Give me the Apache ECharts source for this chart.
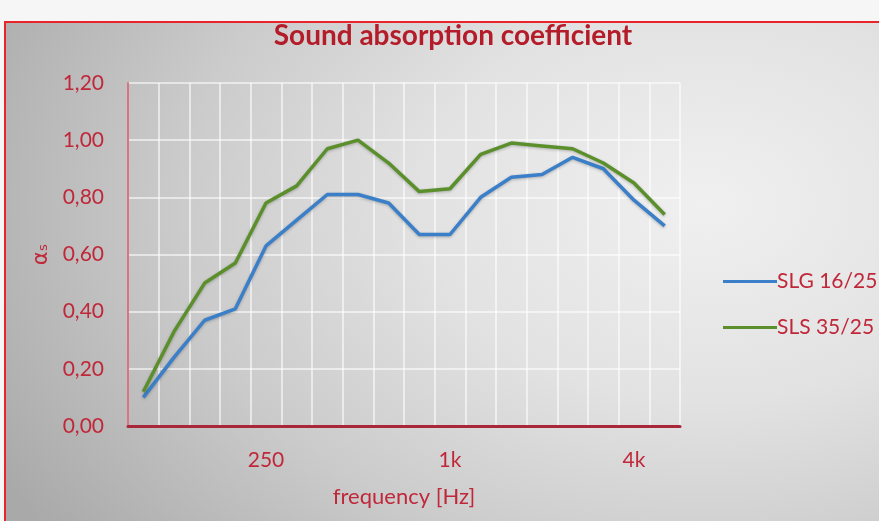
<!DOCTYPE html>
<html>
<head>
<meta charset="utf-8">
<script src="https://cdn.jsdelivr.net/npm/echarts@6/dist/echarts.min.js"></script>
<style>
html,body{margin:0;padding:0;width:879px;height:521px;overflow:hidden;background:#f6f6f6;}
#bg{position:absolute;left:4px;top:21px;width:900px;height:520px;border:2px solid #e8262a;box-sizing:border-box;
background:radial-gradient(ellipse 90% 110% at 78% 35%, #f0f0f0 0%, #e2e2e2 35%, #cbcbcb 65%, #a9a9a9 100%);}
#main{position:absolute;left:0;top:0;width:879px;height:521px;}
</style>
</head>
<body>
<div id="bg"></div>
<div id="main"></div>
<script>
const categories = ['100','125','160','200','250','315','400','500','630','800','1k','1.25k','1.6k','2k','2.5k','3.15k','4k','5k'];
const tickLabels = ['250','1k','4k'];
const slg = [0.10,0.24,0.37,0.41,0.63,0.72,0.81,0.81,0.78,0.67,0.67,0.80,0.87,0.88,0.94,0.90,0.79,0.70];
const sls = [0.12,0.33,0.50,0.57,0.78,0.84,0.97,1.00,0.92,0.82,0.83,0.95,0.99,0.98,0.97,0.92,0.85,0.74];
const seriesNames = ['SLG 16/25','SLS 35/25'];

const red = '#c0283a';
const chart = echarts.init(document.getElementById('main'));
chart.setOption({
  animation:false,
  title:{text:'Sound absorption coefficient',left:448,textAlign:'center',top:17,
    textStyle:{fontFamily:'Lato',fontWeight:'bold',fontSize:28,color:'#b51c2a'}},
  legend:{orient:'vertical',left:718,top:266,itemWidth:54,itemHeight:3,itemGap:25,icon:'rect',
    data:seriesNames,textStyle:{fontFamily:'Lato',fontSize:21,color:red,padding:[0,0,0,-5]}},
  grid:{left:128,top:83,right:199,bottom:95},
  xAxis:{type:'category',data:categories,boundaryGap:true,
    name:'frequency [Hz]',nameLocation:'middle',nameGap:60,
    nameTextStyle:{fontFamily:'Lato',fontSize:22,color:red},
    axisLine:{lineStyle:{color:'#a8283a',width:3}},
    axisTick:{show:false,interval:0},
    axisLabel:{interval:(i,v)=>tickLabels.indexOf(v)>=0,margin:24,fontFamily:'Lato',fontSize:21,color:red},
    splitLine:{show:true,interval:0,lineStyle:{color:'rgba(255,255,255,0.75)',width:1.5}}},
  yAxis:{type:'value',min:0,max:1.2,interval:0.2,
    name:'α\u209B',nameLocation:'middle',nameRotate:90,nameGap:76,
    nameTextStyle:{fontFamily:'DejaVu Sans',fontSize:21,color:red},
    axisLine:{show:true,lineStyle:{color:'#d77585',width:2}},
    axisTick:{show:false},
    axisLabel:{margin:24,fontFamily:'Lato',fontSize:21,color:red,formatter:v=>v.toFixed(2).replace('.',',')},
    splitLine:{lineStyle:{color:'rgba(255,255,255,0.75)',width:1.5}}},
  series:[
    {name:seriesNames[0],type:'line',data:slg,symbol:'none',
      lineStyle:{color:'#3a7fc8',width:3.5,shadowColor:'rgba(0,0,0,0.25)',shadowBlur:3,shadowOffsetY:1},
      itemStyle:{color:'#3a7fc8'}},
    {name:seriesNames[1],type:'line',data:sls,symbol:'none',
      lineStyle:{color:'#5a8f2c',width:3.5,shadowColor:'rgba(0,0,0,0.25)',shadowBlur:3,shadowOffsetY:1},
      itemStyle:{color:'#5a8f2c'}}
  ]
});
</script>
</body>
</html>
